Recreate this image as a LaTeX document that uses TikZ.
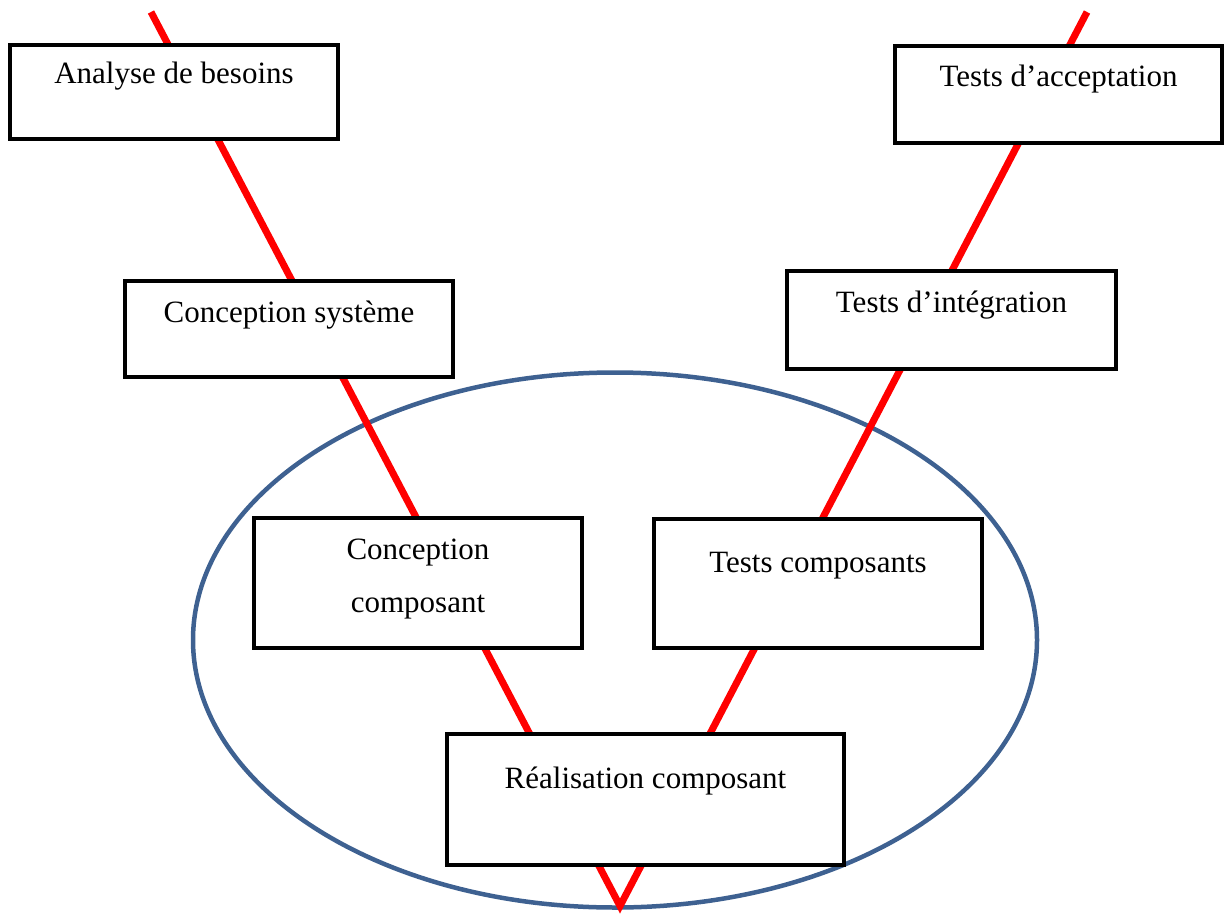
\documentclass[tikz,border=0pt]{standalone}
\usepackage{fontspec}
\setmainfont{Liberation Serif}
\usetikzlibrary{shapes.geometric}
\definecolor{ringblue}{RGB}{62,97,145}
\begin{document}
\begin{tikzpicture}[x=1pt,y=-1pt,
  stagebox/.style={rectangle, draw=black, line width=4.6pt, fill=white, inner sep=0pt},
  stagetext/.style={font=\fontsize{31}{53}\selectfont, anchor=base, align=center, inner sep=0pt},
  vline/.style={draw=red, line width=7pt},
  ring/.style={ellipse, draw=ringblue, line width=4.5pt, inner sep=0pt}]
\useasboundingbox (0,0) rectangle (1226,918);

% component-level group
\node[ring, minimum width=844, minimum height=535] (ring) at (615,640) {};

% the V of the development cycle
\coordinate (topL) at (151,12);
\coordinate (vtx) at (620,906);
\coordinate (topR) at (1087,12);
\draw[vline] (topL) -- (vtx) -- (topR);

% stages
\node[stagebox, minimum width=328, minimum height=94]  (analyse)  at (174,92) {};
\node[stagebox, minimum width=327, minimum height=97]  (accept)   at (1058.5,94.5) {};
\node[stagebox, minimum width=328, minimum height=96]  (systeme)  at (289,329) {};
\node[stagebox, minimum width=329, minimum height=98]  (integ)    at (951.5,320) {};
\node[stagebox, minimum width=328, minimum height=130] (concomp)  at (418,583) {};
\node[stagebox, minimum width=328, minimum height=129] (testcomp) at (818,583.5) {};
\node[stagebox, minimum width=397, minimum height=131] (real)     at (645.5,799.5) {};

% stage labels (base = last line's baseline)
\node[stagetext] (analyse-t)  at ([yshift=-41pt]analyse.north)  {Analyse de besoins};
\node[stagetext] (accept-t)   at ([yshift=-43pt]accept.north)   {Tests d’acceptation};
\node[stagetext] (systeme-t)  at ([yshift=-44pt]systeme.north)  {Conception système};
\node[stagetext] (integ-t)    at ([yshift=-44pt]integ.north)    {Tests d’intégration};
\node[stagetext] (concomp-t)  at ([yshift=-97pt]concomp.north)  {Conception\\composant};
\node[stagetext] (testcomp-t) at ([yshift=-56pt]testcomp.north) {Tests composants};
\node[stagetext] (real-t)     at ([yshift=-57pt]real.north)     {Réalisation composant};
\end{tikzpicture}
\end{document}
